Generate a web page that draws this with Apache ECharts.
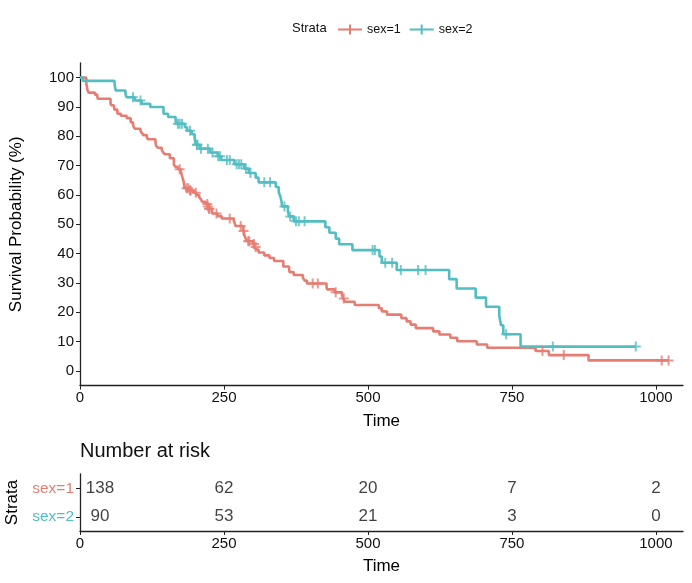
<!DOCTYPE html>
<html>
<head>
<meta charset="utf-8">
<script src="https://cdn.jsdelivr.net/npm/echarts@6/dist/echarts.min.js"></script>
<style>html,body{margin:0;padding:0;background:#fff;}#c{width:692px;height:583px;}</style>
</head>
<body>
<div id="c"></div>
<script>
// ---- data ----
const strata = ['sex=1', 'sex=2'];
const sex1Times = [0,11,12,13,15,26,30,31,53,54,59,60,65,71,81,88,92,93,95,105,107,110,116,118,131,132,135,142,144,147,156,163,166,170,175,176,177,179,180,181,183,189,197,202,207,210,212,218,222,223,229,230,239,246,267,269,270,283,284,285,286,288,291,301,303,306,310,320,329,337,353,363,364,371,387,390,394,428,429,442,455,457,460,477,519,524,533,558,567,574,583,613,624,643,655,689,707,791,814,883,1022];
const sex1Surv = [100,97.8,97.1,95.7,94.9,94.2,93.5,92.8,91.3,90.6,89.9,89.1,87.7,87.0,86.2,84.8,84.1,83.3,82.6,81.9,81.2,80.4,79.7,79.0,78.3,76.8,76.1,75.4,74.6,73.9,72.5,70.3,69.6,68.8,68.1,67.4,66.6,65.2,64.5,63.0,62.3,61.5,60.8,60.0,59.2,58.5,57.7,56.9,56.1,55.3,54.5,53.7,52.8,52.0,51.1,50.3,49.4,48.6,47.7,46.8,45.9,45.0,44.2,43.3,42.3,41.4,40.4,39.4,38.5,37.5,35.6,34.6,33.7,32.7,31.8,30.8,29.8,28.8,27.8,26.8,25.8,24.7,23.6,22.5,21.4,20.3,19.2,18.0,16.9,15.8,14.6,13.5,12.4,11.3,10.1,9.0,7.9,6.8,5.4,3.6,3.6];
const sex1Censor = [173,185,188,191,192,201,221,222,224,225,237,260,279,284,292,294,302,305,404,413,444,458,803,840,1010,1022];
const sex2Times = [0,5,60,61,62,79,81,95,107,122,145,153,166,167,182,186,194,199,201,208,226,239,245,268,285,293,305,310,340,345,348,350,351,361,363,371,426,433,444,450,473,520,524,550,641,654,687,705,728,731,735,765,965];
const sex2Surv = [100,98.9,97.8,96.7,95.6,94.4,93.3,92.2,91.1,90.0,87.7,86.6,85.5,84.3,83.1,81.9,80.7,79.5,77.1,75.8,74.5,73.2,71.9,70.5,69.0,67.5,65.9,64.3,62.7,61.0,59.4,57.7,56.1,54.4,52.7,51.0,49.0,47.1,45.1,43.2,41.2,39.0,36.9,34.4,31.3,28.1,25.0,21.9,18.8,15.6,12.5,8.3,8.3];
const sex2Censor = [92,105,170,173,177,191,203,204,210,222,230,240,243,255,260,272,276,280,288,296,320,330,355,365,375,380,390,508,512,530,542,557,587,600,740,821,965];
const riskTimes = [0,250,500,750,1000];
const risk1 = [138,62,20,7,2];
const risk2 = [90,53,21,3,0];
const xTicks = [0,250,500,750,1000];
const yTicks = [0,10,20,30,40,50,60,70,80,90,100];

// ---- build ----
const colors = ['#E67D72', '#52BEC2'];
function pairs(t, s) { return t.map((v, i) => [v, s[i]]); }
function survAt(t, s, x) { let k = 0; for (let i = 0; i < t.length; i++) { if (t[i] <= x) k = i; } return s[k]; }
function censorPts(c, t, s) { return c.map(x => [x, survAt(t, s, x)]); }
const plus = 'path://M4,0 L6,0 L6,10 L4,10 Z M0,4 L10,4 L10,6 L0,6 Z';
const legendIcon = 'path://M0,4 L24,4 L24,6 L0,6 Z M11,0 L13,0 L13,10 L11,10 Z';
const font = 'Liberation Sans, Arial, sans-serif';
const axisCol = '#222';

function riskData(row, vals) {
  return riskTimes.map((t, i) => {
    const d = { value: [t, row, vals[i]] };
    if (i === 0) d.label = { offset: [20, 0] };
    return d;
  });
}

const xAxisBase = (gi) => ({
  type: 'value', gridIndex: gi, min: 0, max: 1047,
  name: 'Time', nameLocation: 'middle', nameGap: 27,
  nameTextStyle: { fontSize: 17, color: '#000', fontFamily: font },
  axisLine: { show: true, onZero: false, lineStyle: { color: axisCol, width: 1.3 } },
  axisTick: { show: true, length: 4, lineStyle: { color: axisCol }, customValues: xTicks },
  axisLabel: { fontSize: 15, color: '#111', fontFamily: font, margin: 5, customValues: xTicks, formatter: v => String(v) },
  splitLine: { show: false }
});

const option = {
  animation: false,
  textStyle: { fontFamily: font },
  graphic: [
    { type: 'text', left: 292, top: 22, style: { text: 'Strata', fontSize: 13, fill: '#111', fontFamily: font } },
    { type: 'text', left: 80, top: 441, style: { text: 'Number at risk', fontSize: 20, fill: '#111', fontFamily: font } }
  ],
  legend: {
    left: 333, top: 18, itemWidth: 24, itemHeight: 10, itemGap: 9,
    data: [{ name: 'sex=1', icon: legendIcon }, { name: 'sex=2', icon: legendIcon }],
    textStyle: { fontSize: 12.5, color: '#111', fontFamily: font }
  },
  grid: [
    { left: 80, right: 9, top: 63, height: 322.6, outerBoundsMode: 'none', containLabel: false },
    { left: 80, right: 9, top: 474, height: 57, outerBoundsMode: 'none', containLabel: false }
  ],
  xAxis: [xAxisBase(0), xAxisBase(1)],
  yAxis: [
    {
      type: 'value', gridIndex: 0, min: -5, max: 105,
      name: 'Survival Probability (%)', nameLocation: 'middle', nameGap: 55,
      nameTextStyle: { fontSize: 17, color: '#000', fontFamily: font },
      axisLine: { show: true, onZero: false, lineStyle: { color: axisCol, width: 1.3 } },
      axisTick: { show: true, length: 4, lineStyle: { color: axisCol }, customValues: yTicks },
      axisLabel: { fontSize: 15, color: '#111', fontFamily: font, margin: 6, customValues: yTicks, formatter: v => String(v) },
      splitLine: { show: false }
    },
    {
      type: 'category', gridIndex: 1, data: strata, inverse: true,
      name: 'Strata', nameLocation: 'middle', nameGap: 50,
      nameTextStyle: { fontSize: 17, color: '#000', fontFamily: font },
      axisLine: { show: true, onZero: false, lineStyle: { color: axisCol, width: 1.3 } },
      axisTick: { show: true, length: 4, alignWithLabel: true, lineStyle: { color: axisCol } },
      axisLabel: {
        fontSize: 15.5, margin: 6, fontFamily: font,
        formatter: (v, i) => '{s' + i + '|' + v + '}',
        rich: { s0: { color: colors[0], fontSize: 15.5, fontFamily: font }, s1: { color: colors[1], fontSize: 15.5, fontFamily: font } }
      },
      splitLine: { show: false }
    }
  ],
  series: [
    { name: 'sex=1', type: 'line', step: 'end', xAxisIndex: 0, yAxisIndex: 0, data: pairs(sex1Times, sex1Surv), showSymbol: false, symbol: 'none', lineStyle: { width: 2.6, color: colors[0] }, itemStyle: { color: colors[0] }, z: 3 },
    { name: 'sex=2', type: 'line', step: 'end', xAxisIndex: 0, yAxisIndex: 0, data: pairs(sex2Times, sex2Surv), showSymbol: false, symbol: 'none', lineStyle: { width: 2.6, color: colors[1] }, itemStyle: { color: colors[1] }, z: 3 },
    { name: 'sex=1', type: 'scatter', xAxisIndex: 0, yAxisIndex: 0, data: censorPts(sex1Censor, sex1Times, sex1Surv), symbol: plus, symbolSize: 10, itemStyle: { color: colors[0] }, z: 4 },
    { name: 'sex=2', type: 'scatter', xAxisIndex: 0, yAxisIndex: 0, data: censorPts(sex2Censor, sex2Times, sex2Surv), symbol: plus, symbolSize: 10, itemStyle: { color: colors[1] }, z: 4 },
    { name: 'risk1', type: 'scatter', xAxisIndex: 1, yAxisIndex: 1, data: riskData(strata[0], risk1), symbolSize: 0, label: { show: true, position: 'inside', formatter: p => String(p.value[2]), fontSize: 17, color: '#111', fontFamily: font } },
    { name: 'risk2', type: 'scatter', xAxisIndex: 1, yAxisIndex: 1, data: riskData(strata[1], risk2), symbolSize: 0, label: { show: true, position: 'inside', formatter: p => String(p.value[2]), fontSize: 17, color: '#111', fontFamily: font } }
  ]
};
const chart = echarts.init(document.getElementById('c'), null, { renderer: 'canvas' });
chart.setOption(option);
</script>
</body>
</html>
